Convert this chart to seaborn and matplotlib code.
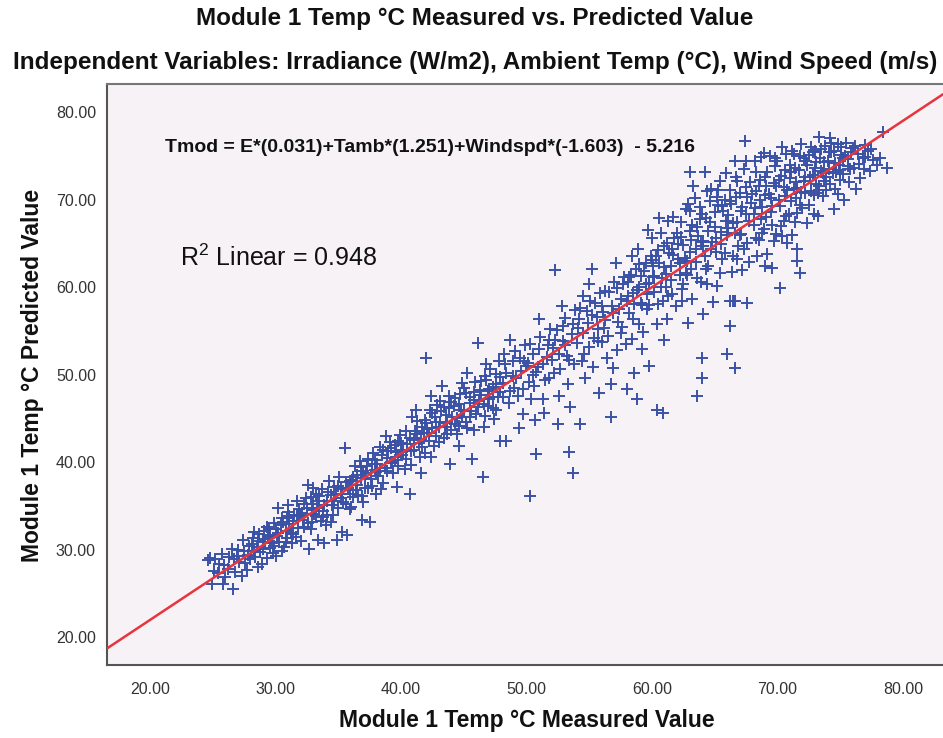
import numpy as np
import pandas as pd
import matplotlib
matplotlib.use("Agg")
import matplotlib.pyplot as plt
import seaborn as sns

# ---------------- data (measured, predicted) ----------------
pts_24_28 = [(24.6, 28.8), (24.9, 26.1), (25.2, 28.9), (25.7, 29.5), (25.8, 26.1), (25.4, 27.3),
             (25.9, 28.2), (24.8, 29.0), (26.5, 30.1), (26.6, 25.5), (26.2, 27.8), (26.9, 29.3),
             (27.4, 31.1), (27.7, 27.7), (27.1, 28.6), (27.9, 30.4), (26.7, 28.9), (27.5, 29.8),
             (27.3, 27.0)]
pts_28_32 = [(28.1, 30.6), (28.4, 29.1), (28.7, 31.8), (28.9, 28.3), (29.2, 30.9), (29.5, 32.4),
             (29.8, 29.6), (28.3, 32.0), (29.0, 31.2), (29.6, 30.2), (28.6, 28.0), (29.9, 33.0),
             (29.3, 29.0), (30.2, 34.7), (31.0, 35.1), (30.1, 31.5), (30.4, 32.8), (30.7, 30.3),
             (30.9, 33.6), (31.2, 31.9), (31.5, 34.0), (31.8, 32.5), (31.3, 30.8), (31.7, 35.5),
             (30.5, 29.8), (31.9, 33.8), (30.8, 32.1)]
pts_32_36 = [(32.1, 34.2), (32.4, 35.9), (32.6, 37.4), (32.7, 30.1), (32.9, 33.1), (33.2, 36.3),
             (33.4, 31.1), (33.5, 34.8), (33.9, 30.7), (33.7, 36.9), (32.3, 32.6), (33.0, 35.2),
             (33.8, 33.7), (32.8, 36.0), (34.1, 35.6), (34.3, 37.8), (34.6, 34.0), (34.9, 31.1),
             (34.8, 36.4), (35.1, 38.3), (35.3, 32.0), (35.5, 41.6), (35.4, 35.4), (35.7, 31.7),
             (35.8, 37.0), (35.9, 34.6), (34.4, 33.2), (35.2, 36.9)]
pts_36_40 = [(36.1, 37.9), (36.3, 39.6), (36.6, 36.2), (36.9, 33.4), (36.9, 36.1), (37.2, 38.8),
             (37.5, 33.2), (37.4, 40.4), (37.7, 37.3), (37.9, 39.1), (36.5, 38.5), (37.0, 35.4),
             (37.8, 41.0), (36.7, 40.1), (38.1, 39.8), (38.3, 41.7), (38.6, 37.6), (38.9, 40.5),
             (39.1, 42.3), (39.4, 38.8), (39.6, 41.2), (39.9, 43.1), (39.7, 37.2), (38.4, 36.9),
             (39.2, 40.0), (38.8, 43.0), (39.8, 39.5)]
pts_40_44 = [(40.7, 36.3), (40.2, 41.4), (40.4, 43.6), (40.8, 39.7), (41.0, 42.5), (41.3, 44.7),
             (41.5, 40.6), (41.8, 43.3), (41.9, 41.0), (40.9, 45.2), (41.6, 38.7), (40.3, 39.2),
             (41.2, 46.0), (42.0, 51.9), (41.7, 44.0), (42.1, 43.8), (42.3, 45.9), (42.6, 41.8),
             (42.8, 44.6), (43.1, 47.0), (43.3, 48.7), (43.4, 42.7), (43.6, 45.4), (43.9, 39.8),
             (43.8, 47.6), (42.4, 40.6), (43.0, 44.0), (42.9, 46.5), (43.7, 43.2)]
pts_44_48 = [(44.1, 45.1), (44.3, 47.3), (44.5, 43.2), (44.8, 46.0), (45.0, 48.5), (45.2, 44.6),
             (45.5, 47.4), (45.7, 40.3), (45.9, 49.2), (45.6, 45.8), (44.6, 41.8), (45.3, 50.2),
             (44.9, 49.0), (45.8, 43.7), (46.1, 53.6), (46.5, 38.3), (46.2, 47.0), (46.4, 49.3),
             (46.7, 45.3), (46.9, 48.1), (47.1, 50.6), (47.3, 46.2), (47.6, 48.9), (47.9, 42.4),
             (47.8, 51.5), (46.6, 44.0), (47.4, 44.9), (47.7, 47.4), (46.8, 51.2)]
pts_48_52 = [(48.4, 42.4), (48.1, 49.0), (48.3, 51.2), (48.6, 46.8), (48.9, 49.8), (49.1, 52.7),
             (49.3, 47.6), (49.6, 50.4), (49.9, 53.4), (49.7, 45.5), (48.7, 54.0), (49.4, 43.9),
             (49.0, 48.5), (49.8, 51.6), (50.3, 36.1), (50.8, 40.9), (50.1, 51.3), (50.3, 53.5),
             (50.6, 48.7), (50.9, 50.9), (51.1, 54.3), (51.3, 47.2), (51.6, 52.0), (51.9, 55.2),
             (51.8, 49.6), (50.7, 44.8), (51.4, 45.6), (51.0, 56.4), (50.5, 50.0), (51.7, 53.4)]
pts_52_56 = [(52.3, 61.9), (52.5, 44.3), (53.4, 41.2), (53.7, 38.7), (52.1, 53.0), (52.4, 55.1),
             (52.7, 50.6), (52.9, 53.8), (53.1, 56.5), (53.3, 48.9), (53.6, 54.6), (53.9, 57.4),
             (53.8, 51.2), (52.6, 47.5), (53.2, 52.1), (52.8, 57.8), (53.5, 46.3), (54.3, 44.4),
             (55.2, 62.1), (54.1, 55.3), (54.3, 57.6), (54.6, 52.4), (54.9, 55.9), (55.1, 58.4),
             (55.3, 50.9), (55.6, 56.6), (55.9, 59.3), (55.7, 53.8), (54.7, 49.6), (55.4, 54.2),
             (54.5, 59.0), (55.8, 47.9), (55.0, 60.3)]
pts_56_60 = [(56.7, 45.2), (56.7, 48.9), (56.9, 50.8), (58.0, 48.4), (56.1, 57.2), (56.3, 59.5),
             (56.5, 54.4), (56.8, 57.8), (57.0, 60.6), (57.2, 52.8), (57.5, 58.6), (57.8, 61.2),
             (57.6, 55.4), (56.4, 51.9), (57.3, 56.0), (57.1, 62.8), (57.9, 53.5), (56.2, 55.3),
             (58.8, 47.2), (58.6, 50.2), (59.2, 52.9), (59.8, 51.0), (59.7, 66.5), (58.1, 59.0),
             (58.3, 61.4), (58.5, 56.3), (58.8, 59.7), (59.0, 62.6), (59.3, 54.9), (59.5, 60.4),
             (59.9, 63.5), (59.6, 57.5), (58.4, 54.1), (59.1, 58.2), (58.9, 64.3), (59.4, 61.8),
             (58.2, 57.0)]
pts_60_64 = [(60.4, 46.0), (60.9, 45.6), (61.0, 53.9), (60.6, 67.9), (60.1, 61.2), (60.3, 63.5),
             (60.5, 58.1), (60.8, 61.0), (61.0, 64.7), (61.2, 56.4), (61.5, 62.4), (61.8, 65.6),
             (61.6, 59.2), (60.4, 55.8), (61.1, 60.0), (60.7, 66.2), (61.4, 63.9), (61.9, 57.8),
             (60.2, 59.4), (61.7, 68.0), (63.6, 47.5), (63.0, 73.2), (63.0, 68.7), (62.1, 63.2),
             (62.3, 65.7), (62.5, 60.3), (62.8, 63.0), (63.0, 66.4), (63.2, 58.6), (63.5, 64.3),
             (63.8, 67.8), (63.6, 61.0), (62.4, 58.4), (63.1, 62.1), (62.7, 68.9), (63.4, 70.2),
             (62.9, 55.9), (62.2, 61.4), (63.9, 65.2), (63.3, 71.5)]
pts_64_68 = [(64.0, 49.6), (64.0, 51.9), (64.1, 56.9), (64.2, 73.1), (64.1, 65.3), (64.3, 67.9),
             (64.5, 62.4), (64.8, 65.1), (65.0, 68.6), (65.2, 60.1), (65.5, 66.3), (65.8, 70.0),
             (65.6, 63.2), (64.4, 60.4), (65.1, 64.0), (64.7, 71.2), (65.4, 72.1), (64.9, 58.3),
             (65.9, 67.5), (65.3, 69.4), (64.6, 69.8), (66.6, 50.7), (66.0, 52.3), (66.2, 55.6),
             (66.5, 58.4), (66.2, 58.4), (66.6, 58.4), (67.6, 58.2), (66.6, 74.4), (67.5, 74.4),
             (67.4, 76.7), (66.1, 66.8), (66.3, 69.5), (66.5, 63.6), (66.8, 67.4), (67.0, 70.8),
             (67.2, 62.0), (67.5, 68.4), (67.8, 72.0), (67.6, 65.0), (66.4, 61.7), (67.1, 66.1),
             (66.7, 72.6), (67.3, 73.5), (66.9, 64.7), (67.9, 69.6), (66.2, 71.1), (67.7, 62.9)]
pts_68_72 = [(68.2, 74.4), (69.0, 62.4), (69.6, 62.2), (68.1, 68.3), (68.3, 71.0), (68.5, 65.4),
             (68.8, 69.1), (69.0, 72.6), (69.2, 63.8), (69.5, 70.2), (69.8, 73.8), (69.6, 67.1),
             (68.4, 63.5), (69.1, 68.0), (68.7, 74.9), (69.4, 75.0), (68.9, 66.6), (69.9, 71.5),
             (69.3, 70.6), (68.6, 72.2), (69.7, 65.3), (70.2, 59.9), (71.8, 61.6), (71.6, 63.0),
             (71.6, 64.3), (71.2, 65.9), (70.1, 70.0), (70.3, 72.7), (70.5, 67.6), (70.8, 71.1),
             (71.0, 74.0), (71.2, 66.0), (71.5, 72.0), (71.8, 75.0), (71.6, 68.5), (70.4, 65.8),
             (71.1, 69.8), (70.7, 75.2), (71.4, 73.6), (70.9, 68.4), (71.9, 70.9), (70.6, 73.4),
             (71.3, 71.2)]
pts_72_79 = [(72.1, 72.1), (72.3, 74.4), (72.5, 69.4), (72.8, 72.8), (73.0, 75.6), (73.2, 68.1),
             (73.5, 73.3), (73.8, 76.1), (73.6, 70.4), (72.4, 67.3), (73.1, 71.8), (72.7, 76.0),
             (73.4, 74.7), (72.9, 70.5), (73.9, 72.6), (72.2, 70.8), (73.7, 74.3), (74.2, 77.0),
             (74.1, 73.5), (74.3, 75.4), (74.6, 71.2), (74.9, 74.0), (75.1, 76.0), (75.3, 69.9),
             (75.6, 73.8), (75.9, 75.4), (75.7, 72.0), (74.5, 68.9), (75.2, 72.9), (74.8, 76.4),
             (75.4, 75.0), (74.4, 73.0), (76.1, 73.6), (76.4, 75.2), (76.8, 74.7), (77.4, 73.3),
             (78.2, 74.8), (78.4, 77.7), (78.7, 73.6), (76.6, 72.5), (77.0, 76.2), (77.6, 74.5),
             (76.3, 71.2), (77.2, 75.5), (77.9, 73.9), (76.9, 73.5)]
core_25_40 = [(25.1, 27.6), (25.5, 28.4), (26.0, 26.9), (26.3, 29.2), (26.8, 27.4), (27.0, 30.0),
              (27.6, 28.5), (27.8, 29.4), (28.0, 28.9), (28.2, 31.3), (28.5, 30.3), (28.8, 29.7),
              (29.1, 32.1), (29.4, 31.4), (29.7, 30.8), (30.0, 32.3), (30.3, 30.9), (30.6, 33.2),
              (30.9, 31.3), (31.1, 32.9), (31.4, 33.3), (31.6, 31.4), (31.9, 34.6), (32.2, 33.4),
              (32.5, 34.7), (32.8, 32.4), (33.1, 34.1), (33.3, 35.6), (33.6, 33.3), (33.9, 35.1),
              (34.2, 36.6), (34.5, 35.1), (34.7, 37.2), (35.0, 34.8), (35.2, 35.9), (35.6, 37.7),
              (35.9, 36.3), (36.2, 38.3), (36.4, 36.8), (36.8, 38.2), (37.1, 37.0), (37.3, 39.5),
              (37.6, 38.1), (37.9, 40.2), (38.2, 38.4), (38.5, 40.8), (38.7, 39.3), (39.0, 41.3),
              (39.3, 39.9), (39.5, 42.0), (39.8, 40.6), (40.0, 42.2), (30.0, 29.3), (31.0, 34.3),
              (32.0, 31.0), (33.0, 37.0), (34.0, 32.8), (36.0, 34.9), (37.0, 39.0), (38.0, 36.4)]
core_40_55 = [(40.1, 40.8), (40.5, 42.1), (40.8, 41.3), (41.1, 43.6), (41.4, 42.2), (41.7, 41.7),
              (42.0, 44.5), (42.2, 42.4), (42.5, 43.9), (42.7, 45.2), (43.0, 42.3), (43.2, 45.8),
              (43.5, 44.0), (43.8, 46.2), (44.0, 43.7), (44.2, 46.4), (44.5, 45.0), (44.7, 47.8),
              (45.0, 45.8), (45.3, 43.9), (45.5, 46.7), (45.8, 48.0), (46.0, 45.5), (46.3, 48.2),
              (46.6, 46.6), (46.8, 49.4), (47.0, 47.2), (47.3, 48.6), (47.6, 46.0), (47.9, 49.7),
              (48.1, 47.4), (48.4, 50.2), (48.7, 48.1), (48.9, 51.6), (49.2, 49.6), (49.5, 51.9),
              (49.7, 48.4), (50.0, 51.0), (50.2, 49.2), (50.5, 52.4), (50.8, 50.3), (51.0, 52.9),
              (51.3, 51.2), (51.5, 49.4), (51.8, 53.9), (52.0, 51.7), (52.3, 54.0), (52.6, 52.3),
              (52.9, 55.6), (53.1, 53.4), (53.4, 51.7), (53.7, 55.8), (54.0, 53.6), (54.2, 56.3),
              (54.5, 54.7), (54.8, 57.3), (55.0, 53.2), (42.4, 47.5), (44.6, 44.1), (46.9, 46.4),
              (48.2, 52.4), (50.4, 47.2), (52.2, 50.2), (54.4, 51.5)]
core_55_68 = [(55.2, 56.8), (55.5, 58.2), (55.7, 55.2), (56.0, 57.8), (56.3, 56.2), (56.6, 59.4),
              (56.9, 57.0), (57.2, 59.9), (57.4, 57.5), (57.7, 60.3), (58.0, 58.4), (58.2, 61.2),
              (58.5, 59.3), (58.7, 62.1), (59.0, 60.0), (59.2, 57.9), (59.5, 62.8), (59.8, 60.5),
              (60.0, 63.1), (60.2, 61.3), (60.5, 64.2), (60.7, 60.0), (61.0, 62.3), (61.2, 65.0),
              (61.5, 60.8), (61.7, 63.7), (62.0, 66.2), (62.2, 62.7), (62.5, 64.8), (62.7, 61.6),
              (63.0, 64.0), (63.2, 67.1), (63.5, 62.9), (63.7, 65.8), (64.0, 68.4), (64.2, 63.5),
              (64.5, 66.4), (64.7, 64.4), (65.0, 66.9), (65.2, 70.3), (65.5, 64.9), (65.7, 68.7),
              (66.0, 66.0), (66.2, 69.8), (66.5, 67.3), (66.7, 70.3), (67.0, 65.9), (67.2, 69.2),
              (67.5, 71.4), (67.7, 67.6), (68.0, 70.6), (56.0, 53.7), (57.5, 54.7), (59.0, 55.8),
              (60.9, 58.4), (62.4, 59.8), (63.9, 60.6), (65.4, 61.6), (66.8, 63.2), (61.3, 67.5),
              (62.9, 69.5), (64.4, 71.0), (65.9, 73.0), (60.0, 65.6), (58.4, 63.6)]
core_68_78 = [(68.2, 69.0), (68.5, 71.6), (68.7, 67.8), (69.0, 70.5), (69.2, 73.1), (69.5, 68.6),
              (69.7, 71.9), (70.0, 74.4), (70.2, 69.3), (70.5, 71.4), (70.7, 68.1), (71.0, 72.5),
              (71.2, 75.6), (71.5, 70.2), (71.7, 73.4), (72.0, 69.0), (72.2, 72.6), (72.5, 75.1),
              (72.7, 71.0), (73.0, 73.6), (73.2, 70.8), (73.5, 75.8), (73.7, 72.1), (74.0, 74.4),
              (74.2, 71.8), (74.5, 75.6), (74.7, 73.1), (75.0, 72.2), (75.2, 74.8), (75.5, 76.5),
              (75.8, 73.5), (76.0, 75.9), (76.5, 74.1), (77.0, 74.9), (77.5, 75.8), (68.9, 75.3),
              (70.4, 76.0), (69.9, 66.1), (71.4, 67.4), (72.9, 68.3), (68.3, 65.6), (70.8, 65.0),
              (74.8, 70.6), (73.3, 77.1), (72.4, 73.9), (71.9, 76.4)]
dense_28_48 = [(28.3, 29.8), (28.6, 31.0), (29.0, 30.1), (29.3, 32.6), (29.6, 31.7), (29.9, 30.4),
               (30.2, 31.9), (30.5, 33.6), (30.8, 30.9), (31.1, 33.8), (31.4, 31.8), (31.7, 34.0),
               (32.0, 33.9), (32.3, 35.2), (32.6, 33.0), (32.9, 34.5), (33.2, 33.8), (33.5, 36.1),
               (33.8, 34.4), (34.1, 34.0), (34.4, 36.2), (34.7, 35.5), (35.0, 37.3), (35.3, 36.4),
               (35.6, 35.2), (35.9, 37.8), (36.2, 36.0), (36.5, 37.4), (36.8, 39.4), (37.1, 38.2),
               (37.4, 37.0), (37.7, 39.8), (38.0, 38.9), (38.3, 39.0), (38.6, 41.4), (38.9, 39.0),
               (39.2, 41.6), (39.5, 40.2), (39.8, 42.4), (40.1, 41.2), (40.4, 40.3), (40.7, 42.8),
               (41.0, 41.4), (41.3, 43.2), (41.6, 42.6), (41.9, 44.8), (42.2, 43.3), (42.5, 45.6),
               (42.8, 43.0), (43.1, 44.6), (43.4, 46.3), (43.7, 44.5), (44.0, 46.9), (44.3, 44.4),
               (44.6, 46.6), (44.9, 45.2), (45.2, 47.9), (45.5, 45.1), (45.8, 47.1), (46.1, 46.3),
               (46.4, 47.7), (46.7, 49.8), (47.0, 48.3), (47.3, 47.4), (47.6, 50.1), (47.9, 48.0)]
dense_58_76 = [(58.1, 60.6), (58.6, 58.1), (59.1, 61.3), (59.6, 59.2), (60.1, 62.4), (60.6, 62.8),
               (61.1, 61.5), (61.6, 64.4), (62.1, 64.9), (62.6, 63.3), (63.1, 65.4), (63.6, 66.9),
               (64.1, 64.7), (64.6, 67.4), (65.1, 65.6), (65.6, 69.3), (66.1, 68.2), (66.6, 66.2),
               (67.1, 68.7), (67.6, 70.3), (68.1, 67.1), (68.6, 69.9), (69.1, 71.6), (69.6, 69.3),
               (70.1, 72.2), (70.6, 70.4), (71.1, 73.1), (71.6, 71.3), (72.1, 74.8), (72.6, 72.6),
               (73.1, 74.3), (73.6, 73.0), (74.1, 75.4), (74.6, 74.2), (75.1, 75.1), (75.6, 74.6),
               (62.3, 67.4), (63.8, 69.2), (65.3, 71.1), (66.8, 72.1), (68.3, 73.2), (69.8, 74.7),
               (71.3, 75.2), (72.8, 75.4), (64.3, 62.1), (65.8, 63.9), (67.3, 64.3), (68.8, 66.2),
               (70.3, 67.0), (71.8, 69.4), (73.3, 71.6), (62.8, 61.4), (61.3, 59.0), (59.8, 58.0),
               (74.3, 76.5), (76.2, 76.1), (75.0, 73.4), (73.9, 71.1)]

x_ticks = [20, 30, 40, 50, 60, 70, 80]
y_ticks = [20, 30, 40, 50, 60, 70, 80]

title_1 = "Module 1 Temp \u00b0C Measured vs. Predicted Value"
title_2 = "Independent Variables: Irradiance (W/m2), Ambient Temp (\u00b0C), Wind Speed (m/s)"
x_label = "Module 1 Temp \u00b0C Measured Value"
y_label = "Module 1 Temp \u00b0C Predicted Value"
equation = "Tmod = E*(0.031)+Tamb*(1.251)+Windspd*(-1.603)  - 5.216"
r2_text = "R$^2$ Linear = 0.948"

all_pts = (pts_24_28 + pts_28_32 + pts_32_36 + pts_36_40 + pts_40_44 + pts_44_48 +
           pts_48_52 + pts_52_56 + pts_56_60 + pts_60_64 + pts_64_68 + pts_68_72 + pts_72_79 +
           core_25_40 + core_40_55 + core_55_68 + core_68_78 + dense_28_48 + dense_58_76)
df = pd.DataFrame(all_pts, columns=["measured", "predicted"])

# ---------------- style ----------------
sns.set_theme(style="white")
plt.rcParams["font.family"] = ["Liberation Sans", "DejaVu Sans"]
plt.rcParams["mathtext.fontset"] = "custom"
plt.rcParams["mathtext.rm"] = "Liberation Sans"

BG = "#F6F2F6"
BLUE = "#3A52A6"
RED = "#E8343C"
AX = "#555555"

fig = plt.figure(figsize=(9.43, 7.38), dpi=100)
fig.patch.set_facecolor("white")
ax = fig.add_axes([107 / 943, 1 - 665 / 738, (943 - 107) / 943, (665 - 84) / 738])
ax.set_facecolor(BG)

ax.set_xlim(16.57, 83.2)
ax.set_ylim(16.8, 83.2)

sns.scatterplot(data=df, x="measured", y="predicted", marker="+", s=70,
                color=BLUE, linewidth=1.4, ax=ax, zorder=2)
sns.regplot(data=df, x="measured", y="predicted", scatter=False, ci=None,
            truncate=False, color=RED, line_kws={"linewidth": 1.8, "zorder": 3}, ax=ax)
ax.set_xlim(16.57, 83.2)
ax.set_ylim(16.8, 83.2)

ax.set_xticks(x_ticks)
ax.set_yticks(y_ticks)
ax.set_xticklabels([f"{v:.2f}" for v in x_ticks])
ax.set_yticklabels([f"{v:.2f}" for v in y_ticks])
ax.tick_params(axis="both", direction="out", length=6, width=1.2, color=AX,
               labelsize=11.5, labelcolor="#333333")
ax.tick_params(axis="x", pad=6)
ax.tick_params(axis="y", pad=2)

for side in ["left", "bottom", "top", "right"]:
    ax.spines[side].set_color(AX)
    ax.spines[side].set_linewidth(1.5)
ax.spines["right"].set_visible(False)
ax.spines["top"].set_color("#777777")

ax.set_xlabel(x_label, fontsize=16.5, fontweight="bold", color="#111111")
ax.set_ylabel(y_label, fontsize=16.5, fontweight="bold", color="#111111")
ax.xaxis.set_label_coords((527 - 107) / 836, (665 - 720) / 581)
ax.xaxis.label.set_va("center")
ax.yaxis.set_label_coords((33 - 107) / 836, (665 - 375) / 581)
ax.yaxis.label.set_va("center")

fig.text(475 / 943, 1 - 18 / 738, title_1, ha="center", va="center",
         fontsize=17.5, fontweight="bold", color="#111111")
fig.text(475 / 943, 1 - 63 / 738, title_2, ha="center", va="center",
         fontsize=17.5, fontweight="bold", color="#111111")

ax.text((165 - 107) / 836, (665 - 147) / 581, equation, transform=ax.transAxes,
        ha="left", va="center", fontsize=14, fontweight="bold", color="#111111")
ax.text((180 - 107) / 836, (665 - 258) / 581, r2_text, transform=ax.transAxes,
        ha="left", va="center", fontsize=18, color="#111111")

fig.savefig("out.png", dpi=100, facecolor="white")
